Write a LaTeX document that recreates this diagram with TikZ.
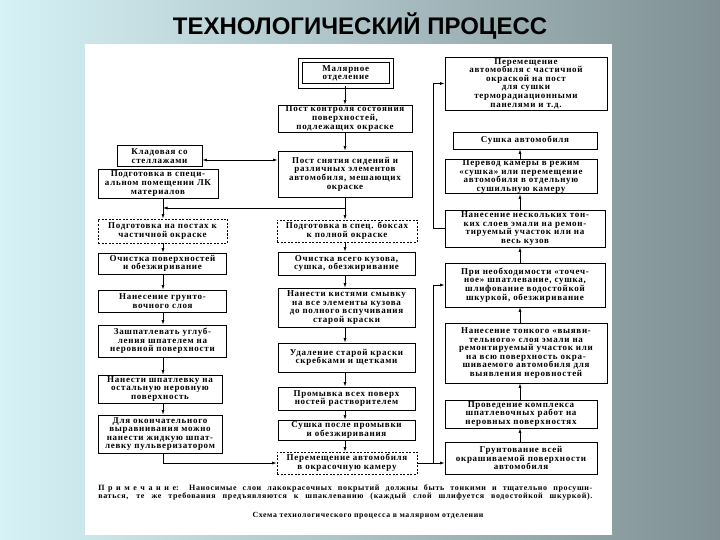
\documentclass[tikz,border=0pt]{standalone}
\usepackage{fontspec}
\setmainfont{Liberation Serif}
\newfontfamily\shemafont{Liberation Serif}[LetterSpace=8]
\newfontfamily\razryadka{Liberation Serif}[LetterSpace=45]
\newfontfamily\titlefont{Liberation Sans}
\usetikzlibrary{arrows.meta}
\definecolor{fonsvet}{HTML}{D6F2F6}
\definecolor{fonsered}{HTML}{A4B7BB}
\definecolor{fontemn}{HTML}{809094}
\tikzset{
  blok/.style={draw, line width=0.9pt, align=center, inner sep=0.5pt,
    font=\shemafont\bfseries\fontsize{9}{8.6}\selectfont},
  punktir/.style={blok, dash pattern=on 2pt off 1.5pt},
}
\begin{document}
\begin{tikzpicture}[x=1pt, y=-1pt, >={Latex[length=4.5pt,width=3pt]}, line width=0.7pt]
    \shade[left color=fonsvet, middle color=fonsered, right color=fontemn] (0,0) rectangle (720,540);
    \fill[white] (85,44) rectangle (612,535);
    \useasboundingbox (0,0) rectangle (720,540);
    \node[font=\titlefont\bfseries\fontsize{24}{24}\selectfont] (zagolovok) at (360,26) {ТЕХНОЛОГИЧЕСКИЙ ПРОЦЕСС};
    % оси колонок
    \coordinate (osL) at (163,0);
    \coordinate (osM) at (345,0);
    \coordinate (osR) at (520,0);
    \coordinate (osP) at (433,0);
    \coordinate (razvilka) at (345,208);
    % левая колонка
    \node[blok, minimum width=85pt, minimum height=21pt] (klad) at (159.5,156) {Кладовая со\\стеллажами};
    \node[blok, minimum width=120pt, minimum height=29pt] (podgLK) at (158,183.5) {Подготовка в специ-\\альном помещении ЛК\\материалов};
    \node[punktir, minimum width=129pt, minimum height=24pt] (chast) at (162.5,231) {Подготовка на постах к\\частичной окраске};
    \node[blok, minimum width=128pt, minimum height=21pt] (ochL) at (162.5,263.5) {Очистка поверхностей\\и обезжиривание};
    \node[blok, minimum width=128pt, minimum height=22pt] (grunt) at (162.5,301) {Нанесение грунто-\\вочного слоя};
    \node[blok, minimum width=128pt, minimum height=32pt] (zashp) at (162.5,341) {Зашпатлевать углуб-\\ления шпателем на\\неровной поверхности};
    \node[blok, minimum width=124pt, minimum height=28pt] (shpatl) at (160,389) {Нанести шпатлевку на\\остальную неровную\\поверхность};
    \node[blok, minimum width=124pt, minimum height=38pt] (okonch) at (160,434) {Для окончательного\\выравнивания можно\\нанести жидкую шпат-\\левку пульверизатором};
    % средняя колонка
    \node[blok, double, double distance=3.5pt, minimum width=91pt, minimum height=25.5pt] (malyar) at (345.75,73.25) {Малярное\\отделение};
    \node[blok, minimum width=134pt, minimum height=27pt] (kontrol) at (345,118.5) {Пост контроля состояния\\поверхностей,\\подлежащих окраске};
    \node[blok, minimum width=134pt, minimum height=46pt] (snyat) at (345,174) {Пост снятия сидений и\\различных элементов\\автомобиля, мешающих\\окраске};
    \node[punktir, minimum width=140pt, minimum height=22pt] (polnaya) at (347,231) {Подготовка в спец. боксах\\к полной окраске};
    \node[blok, minimum width=137pt, minimum height=23pt] (ochM) at (346.5,263.5) {Очистка всего кузова,\\сушка, обезжиривание};
    \node[blok, minimum width=137pt, minimum height=39pt] (smyvka) at (346.5,307.5) {Нанести кистями смывку\\на все элементы кузова\\до полного вспучивания\\старой краски};
    \node[blok, minimum width=137pt, minimum height=29pt] (udal) at (346.5,357.5) {Удаление старой краски\\скребками и щетками};
    \node[blok, minimum width=137pt, minimum height=23pt] (promyv) at (346.5,398.5) {Промывка всех поверх\\ностей растворителем};
    \node[blok, minimum width=137pt, minimum height=20pt] (sushM) at (346.5,430) {Сушка после промывки\\и обезжиривания};
    \node[punktir, minimum width=140pt, minimum height=22pt] (perem) at (347,463) {Перемещение автомобиля\\в окрасочную камеру};
    % правая колонка
    \node[blok, minimum width=162pt, minimum height=53pt] (chastPost) at (526,83.5) {Перемещение\\автомобиля с частичной\\окраской на пост\\для сушки\\терморадиационными\\панелями и т.д.};
    \node[blok, minimum width=144pt, minimum height=17pt] (sushA) at (525,140.5) {Сушка автомобиля};
    \node[blok, minimum width=152pt, minimum height=33pt] (perevod) at (521,176.5) {Перевод камеры в режим\\«сушка» или перемещение\\автомобиля в отдельную\\сушильную камеру};
    \node[blok, minimum width=160pt, minimum height=37pt] (neskolk) at (525,228.5) {Нанесение нескольких тон-\\ких слоев эмали на ремон-\\тируемый участок или на\\весь кузов};
    \node[blok, minimum width=160pt, minimum height=44pt] (tochech) at (525,285) {При необходимости «точеч-\\ное» шпатлевание, сушка,\\шлифование водостойкой\\шкуркой, обезжиривание};
    \node[blok, minimum width=162pt, minimum height=60pt] (vyyav) at (526,353) {Нанесение тонкого «выяви-\\тельного» слоя эмали на\\ремонтируемый участок или\\на всю поверхность окра-\\шиваемого автомобиля для\\выявления неровностей};
    \node[blok, minimum width=152pt, minimum height=28pt] (komplex) at (521,414) {Проведение комплекса\\шпатлевочных работ на\\неровных поверхностях};
    \node[blok, minimum width=152pt, minimum height=32pt] (gruntV) at (521,458) {Грунтование всей\\окрашиваемой поверхности\\автомобиля};
    % связи
    \draw [->] (malyar.south -| osM) -- (kontrol.north -| osM);
    \draw [->] (kontrol.south -| osM) -- (snyat.north -| osM);
    \draw [<->] ([yshift=-4pt]klad.east) -- ([yshift=-4pt]klad.east -| snyat.west);
    \draw (snyat.south -| osM) -- (razvilka);
    \draw [->] (razvilka) -- (razvilka -| osL);
    \draw [->] (razvilka) -- (polnaya.north -| osM);
    \draw [->] (podgLK.south -| osL) -- (chast.north -| osL);
    \draw [->] (chast.south -| osL) -- (ochL.north -| osL);
    \draw [->] (ochL.south -| osL) -- (grunt.north -| osL);
    \draw [->] (grunt.south -| osL) -- (zashp.north -| osL);
    \draw [->] (zashp.south -| osL) -- (shpatl.north -| osL);
    \draw [->] (shpatl.south -| osL) -- (okonch.north -| osL);
    \draw [->] (okonch.south -| osL) |- (perem.west);
    \draw [->] (polnaya.south -| osM) -- (ochM.north -| osM);
    \draw [->] (ochM.south -| osM) -- (smyvka.north -| osM);
    \draw [->] (smyvka.south -| osM) -- (udal.north -| osM);
    \draw [->] (udal.south -| osM) -- (promyv.north -| osM);
    \draw [->] (promyv.south -| osM) -- (sushM.north -| osM);
    \draw [->] (sushM.south -| osM) -- (perem.north -| osM);
    \draw [->] (perem.east) -- (perem.east -| gruntV.west);
    \draw [->] (perem.east -| osP) |- (tochech.west);
    \draw [->] (gruntV.north -| osR) -- (komplex.south -| osR);
    \draw [->] (komplex.north -| osR) -- (vyyav.south -| osR);
    \draw [->] (vyyav.north -| osR) -- (tochech.south -| osR);
    \draw [->] (tochech.north -| osR) -- (neskolk.south -| osR);
    \draw [->] (neskolk.north -| osR) -- (perevod.south -| osR);
    \draw [->] (perevod.north -| osR) -- (sushA.south -| osR);
    \draw [->] (neskolk.west) -| (osP |- chastPost.west) -- (chastPost.west);
    % примечание и подпись
    \node[anchor=north west, inner sep=0pt, align=left, font=\shemafont\bfseries\fontsize{8}{8.3}\selectfont] (primech) at (98,484)
        {\makebox[494pt][s]{{\razryadka Примечание}: Наносимые слои лакокрасочных покрытий должны быть тонкими и тщательно просуши-}\\
         \makebox[494pt][s]{ваться, те же требования предъявляются к шпаклеванию (каждый слой шлифуется водостойкой шкуркой).}};
    \node[font=\shemafont\bfseries\fontsize{7.8}{8}\selectfont] (podpis) at (368,516) {Схема технологического процесса в малярном отделении};
\end{tikzpicture}
\end{document}
